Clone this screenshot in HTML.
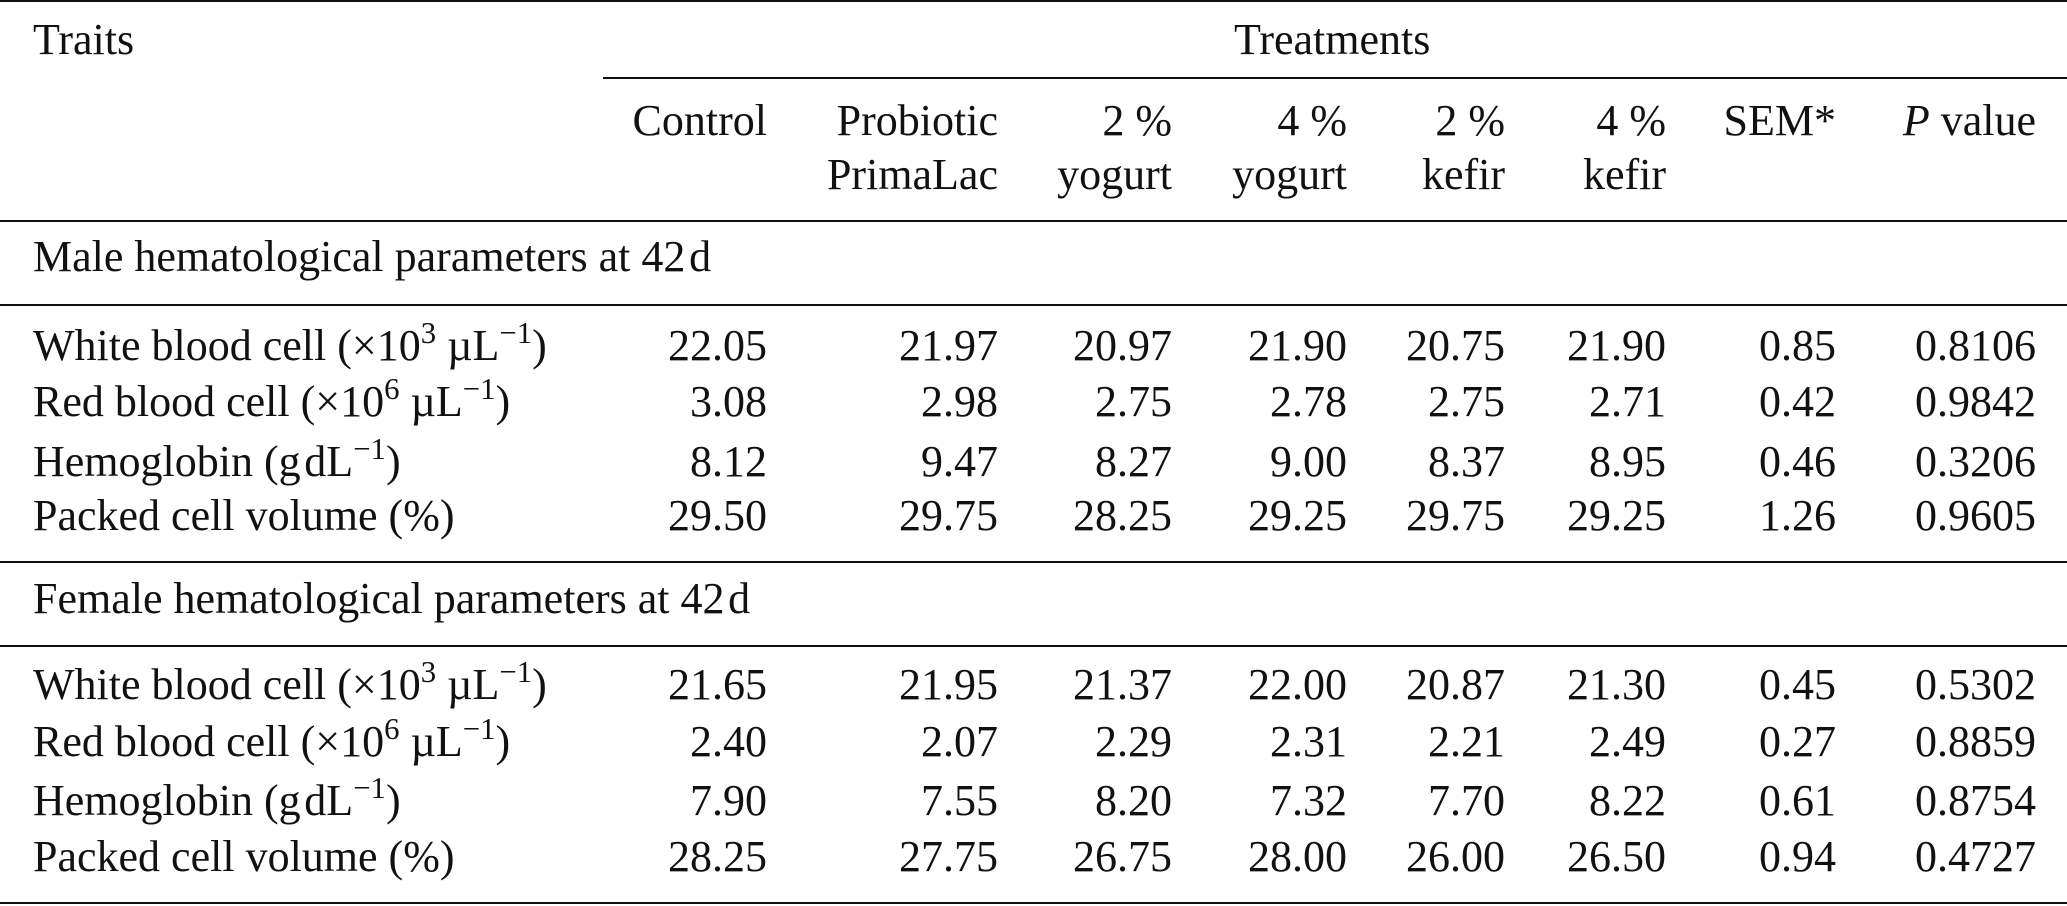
<!DOCTYPE html>
<html><head><meta charset="utf-8">
<style>
html,body{margin:0;padding:0;background:#fff;}
#c{position:relative;width:2067px;height:906px;overflow:hidden;font-family:"Liberation Serif",serif;font-size:44px;color:#111;}
.t{position:absolute;line-height:44px;white-space:nowrap;}
.r{text-align:right;}
.l{position:absolute;background:#111;height:2px;}
sup{font-size:0.7em;line-height:0;vertical-align:0.55em;}
</style></head><body><div id="c">
<div class="l" style="left:0;width:2067px;top:0px"></div>
<div class="l" style="left:603px;width:1464px;top:77px"></div>
<div class="l" style="left:0;width:2067px;top:220px"></div>
<div class="l" style="left:0;width:2067px;top:304px"></div>
<div class="l" style="left:0;width:2067px;top:561px"></div>
<div class="l" style="left:0;width:2067px;top:645px"></div>
<div class="l" style="left:0;width:2067px;top:902px"></div>

<div class="t" style="left:33px;top:18px">Traits</div>
<div class="t" style="left:1234px;top:18px">Treatments</div>

<div class="t r" style="right:1300px;top:99px">Control</div>
<div class="t r" style="right:1069px;top:99px">Probiotic</div>
<div class="t r" style="right:1069px;top:153px">PrimaLac</div>
<div class="t r" style="right:895px;top:99px">2 %</div>
<div class="t r" style="right:895px;top:153px">yogurt</div>
<div class="t r" style="right:720px;top:99px">4 %</div>
<div class="t r" style="right:720px;top:153px">yogurt</div>
<div class="t r" style="right:562px;top:99px">2 %</div>
<div class="t r" style="right:562px;top:153px">kefir</div>
<div class="t r" style="right:401px;top:99px">4 %</div>
<div class="t r" style="right:401px;top:153px">kefir</div>
<div class="t r" style="right:231px;top:99px">SEM*</div>
<div class="t r" style="right:31px;top:99px"><i>P</i> value</div>

<div class="t" style="left:33px;top:235px">Male hematological parameters at 42&#8202;d</div>
<div class="t" style="left:33px;top:577px">Female hematological parameters at 42&#8202;d</div>

<div id="rows"></div>
</div>
<script>
var rows=[
[324,"White blood cell (&times;10<sup>3</sup> &micro;L<sup>&minus;1</sup>)",["22.05","21.97","20.97","21.90","20.75","21.90","0.85","0.8106"]],
[380,"Red blood cell (&times;10<sup>6</sup> &micro;L<sup>&minus;1</sup>)",["3.08","2.98","2.75","2.78","2.75","2.71","0.42","0.9842"]],
[440,"Hemoglobin (g&#8202;dL<sup>&minus;1</sup>)",["8.12","9.47","8.27","9.00","8.37","8.95","0.46","0.3206"]],
[494,"Packed cell volume (%)",["29.50","29.75","28.25","29.25","29.75","29.25","1.26","0.9605"]],
[663,"White blood cell (&times;10<sup>3</sup> &micro;L<sup>&minus;1</sup>)",["21.65","21.95","21.37","22.00","20.87","21.30","0.45","0.5302"]],
[720,"Red blood cell (&times;10<sup>6</sup> &micro;L<sup>&minus;1</sup>)",["2.40","2.07","2.29","2.31","2.21","2.49","0.27","0.8859"]],
[779,"Hemoglobin (g&#8202;dL<sup>&minus;1</sup>)",["7.90","7.55","8.20","7.32","7.70","8.22","0.61","0.8754"]],
[835,"Packed cell volume (%)",["28.25","27.75","26.75","28.00","26.00","26.50","0.94","0.4727"]]
];
var rights=[1300,1069,895,720,562,401,231,31];
var h="";
rows.forEach(function(r){
 h+='<div class="t" style="left:33px;top:'+r[0]+'px">'+r[1]+'</div>';
 r[2].forEach(function(v,i){h+='<div class="t r" style="right:'+rights[i]+'px;top:'+r[0]+'px">'+v+'</div>';});
});
document.getElementById('rows').outerHTML=h;
</script>
</body></html>
